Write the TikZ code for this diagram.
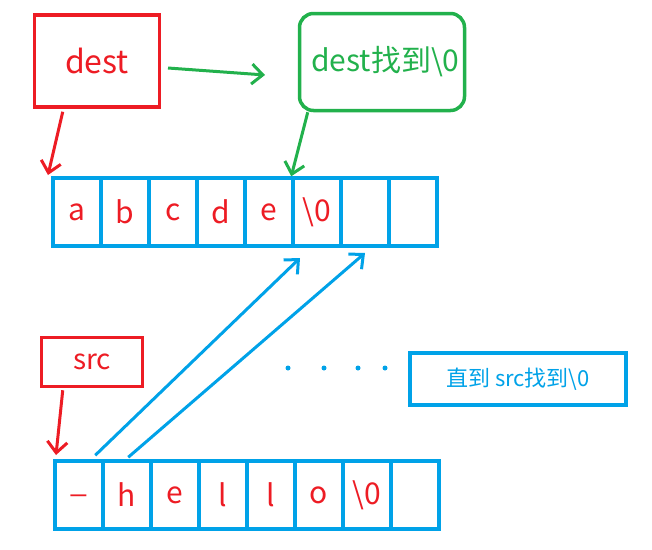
\documentclass[tikz,border=0pt]{standalone}
\usepackage{fontspec}
\setmainfont{Noto Sans CJK SC}
\usetikzlibrary{arrows.meta}
\definecolor{myred}{RGB}{237,28,36}
\definecolor{mygreen}{RGB}{34,177,76}
\definecolor{myblue}{RGB}{0,162,232}
\tikzset{
  cellbox/.style={draw=myblue, line width=3.5pt, minimum width=48pt, minimum height=68pt, inner sep=0pt, text=myred, font=\fontsize{30}{34}\selectfont},
  redbox/.style={draw=myred, line width=3.5pt, inner sep=0pt, text=myred, font=\fontsize{32}{36}\selectfont},
  arr/.style={line width=3pt, -{Straight Barb[length=11pt,width=20pt]}}
}
\begin{document}
\begin{tikzpicture}[x=1pt,y=-1pt]
\useasboundingbox (0,0) rectangle (652,549);
% boxes of pointers
\node [redbox, minimum width=125pt, minimum height=92pt] (dest) at (97,61) {dest};
\node [redbox, minimum width=101pt, minimum height=49pt, font=\fontsize{28}{32}\selectfont] (src) at (92,362) {src};
\node [draw=mygreen, line width=3.5pt, rounded corners=14pt, minimum width=165pt, minimum height=97pt] (found) at (382,62) {};
\node [text=mygreen, font=\fontsize{30}{34}\selectfont, anchor=west, inner sep=0pt] (foundtext) at (311,62) {dest找到\textbackslash 0};
\node [draw=myblue, line width=3.5pt, minimum width=216pt, minimum height=52pt, text=myblue, font=\fontsize{22}{26}\selectfont] (note) at (518,379) {直到 src找到\textbackslash 0};
% top array
\foreach \t [count=\i] in {a,b,c,d,e,\textbackslash 0,{},{}}
  \node [cellbox] (t\i) at (53+48*\i-24,212) {\t};
% bottom array
\foreach \t [count=\i] in {\_,h,e,l,l,o,\textbackslash 0,{}}
  \node [cellbox] (b\i) at (55+48*\i-24,495) {\t};
% arrows
\coordinate (gs) at (168,68);
\coordinate (ge) at (265,75);
\draw [arr, mygreen] (gs) -- (ge);
\draw [arr, mygreen] (found.south west) ++(10,0) coordinate (g2) -- (t6.north west);
\draw [arr, myred] (dest.south west) ++(30,3) coordinate (r1) -- (48,175);
\draw [arr, myred] (src.south west) ++(23,2) coordinate (r2) -- (56,455);
\draw [arr, myblue] (b2.north west) ++(-6,-4) coordinate (u1) -- (300,258);
\draw [arr, myblue] (b2.north west) ++(27,-2) coordinate (u2) -- (365,253);
% dots
\foreach \x in {288,324,358,385}
  \fill [myblue] (\x,368) circle (2.5pt);
\end{tikzpicture}
\end{document}
